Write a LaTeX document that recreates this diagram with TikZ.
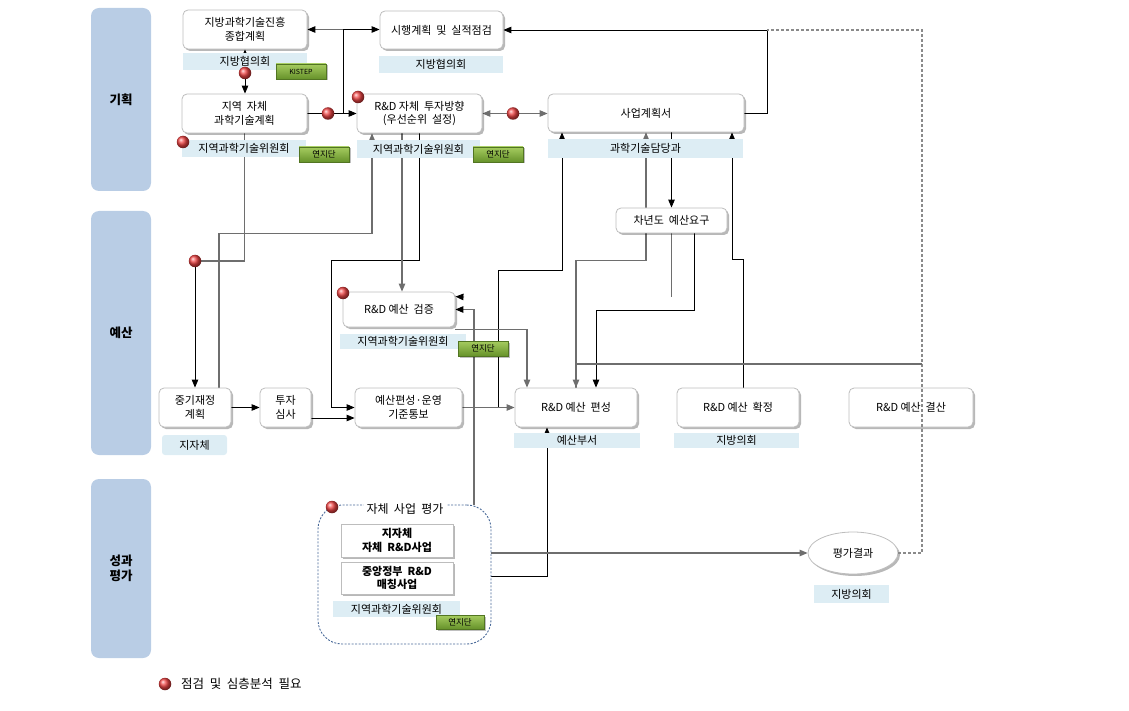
\documentclass[tikz,border=0pt]{standalone}
\usepackage{fontspec}
\setmainfont{Noto Sans CJK KR}
\usetikzlibrary{arrows.meta,shadows,calc,shapes.geometric}
\pgfdeclarelayer{bg}
\pgfsetlayers{bg,main}
\definecolor{lane}{HTML}{B9CDE5}
\definecolor{lblc}{HTML}{DDEDF4}
\definecolor{gry}{HTML}{6E6E6E}
\definecolor{bord}{HTML}{BDBDBD}
\definecolor{gtop}{HTML}{A6CC60}
\definecolor{gbot}{HTML}{66922A}
\definecolor{evb}{HTML}{4A6A99}
\definecolor{ballc}{HTML}{F04545}
\definecolor{dashc}{HTML}{8A8A8A}
\tikzset{
  box/.style={draw=bord, fill=white, rounded corners=5pt, line width=0.8pt,
    drop shadow={shadow xshift=2pt, shadow yshift=-2pt, fill=black, opacity=0.28},
    align=center, font=\fontsize{11}{13.5}\selectfont, inner sep=0pt},
  sqbox/.style={box, rounded corners=0pt, font=\bfseries\fontsize{11}{13.5}\selectfont},
  lbl/.style={fill=lblc, inner sep=0pt, font=\fontsize{11}{12}\selectfont},
  tag/.style={top color=gtop, bottom color=gbot, draw=gbot!80!black, line width=0.3pt,
    inner sep=0pt, font=\fontsize{8.5}{9}\selectfont,
    drop shadow={shadow xshift=1.5pt, shadow yshift=-1.5pt, fill=black, opacity=0.25}},
  lanebox/.style={fill=lane, rounded corners=8pt, font=\bfseries\fontsize{12.5}{15}\selectfont,
    align=center, inner sep=0pt},
  ballnode/.style={circle, minimum size=12.5pt, inner sep=0pt, shade, ball color=ballc},
  blk/.style={black, line width=0.9pt, -{Triangle[length=8pt,width=6.5pt]}},
  bline/.style={black, line width=0.9pt},
  gra/.style={gry, line width=1.1pt, -{Triangle[length=8pt,width=6.5pt]}},
  grab/.style={gry, line width=1.1pt, -{Triangle[length=8pt,width=6.5pt,black]}},
  gline/.style={gry, line width=1.1pt},
}
\begin{document}
\begin{tikzpicture}[x=1pt,y=-1pt]
\useasboundingbox (0,0) rectangle (1129,711);
% lanes
\node[lanebox, minimum width=60pt, minimum height=183pt] (L1) at (121,99.5) {기획};
\node[lanebox, minimum width=60pt, minimum height=244pt] (L2) at (121,333) {예산};
\node[lanebox, minimum width=60pt, minimum height=179pt] (L3) at (121,568.5) {성과\\평가};

% main boxes
\node[box, minimum width=124pt, minimum height=39pt] (A) at (245,29.5) {지방과학기술진흥\\종합계획};
\node[box, minimum width=123pt, minimum height=38pt] (B) at (441.5,30) {시행계획 \ 및 \ 실적점검};
\node[box, minimum width=125pt, minimum height=39pt] (C) at (244.5,113.5) {지역 \ 자체\\과학기술계획};
\node[box, minimum width=125pt, minimum height=39pt] (D) at (419.5,113.5) {R\&D 자체 \ 투자방향\\(우선순위 \ 설정)};
\node[box, minimum width=196pt, minimum height=38pt] (E) at (646,113) {사업계획서};
\node[box, minimum width=111pt, minimum height=25pt] (F) at (671.5,220.5) {차년도 \ 예산요구};
\node[box, minimum width=112pt, minimum height=35pt] (G) at (399,309.5) {R\&D 예산 \ 검증};
\node[box, minimum width=72pt, minimum height=39pt] (I) at (195,407.5) {중기재정\\계획};
\node[box, minimum width=51pt, minimum height=39pt] (J) at (285.5,407.5) {투자\\심사};
\node[box, minimum width=107pt, minimum height=39pt] (H) at (408.5,407.5) {예산편성·운영\\기준통보};
\node[box, minimum width=122pt, minimum height=39pt] (K) at (576,407.5) {R\&D 예산 \ 편성};
\node[box, minimum width=122pt, minimum height=39pt] (L) at (738,407.5) {R\&D 예산 \ 확정};
\node[box, minimum width=124pt, minimum height=39pt] (M) at (911,407.5) {R\&D 예산 \ 결산};
\node[box, ellipse, minimum width=90pt, minimum height=42pt] (N) at (853,553) {평가결과};

% evaluation group
\node[draw=evb, dash pattern=on 2pt off 1.5pt, line width=0.9pt, rounded corners=24pt,
  minimum width=173pt, minimum height=139pt] (EV) at (404.5,574.5) {};
\node[fill=white, inner sep=3pt, font=\fontsize{12}{13}\selectfont] (EVt) at (405,509) {자체 \ 사업 \ 평가};
\node[sqbox, minimum width=112pt, minimum height=33pt] (E1) at (397,540.5) {지자체\\자체 \ R\&D사업};
\node[sqbox, minimum width=112pt, minimum height=32pt] (E2) at (397,578) {중앙정부 \ R\&D\\매칭사업};

% labels
\node[lbl, minimum width=124pt, minimum height=17pt] (lA) at (245,61.5) {지방협의회};
\node[lbl, minimum width=124pt, minimum height=17pt] (lB) at (441,64.5) {지방협의회};
\node[lbl, minimum width=124pt, minimum height=17pt] (lC) at (244,148.5) {지역과학기술위원회};
\node[lbl, minimum width=123pt, minimum height=18pt] (lD) at (418.5,149) {지역과학기술위원회};
\node[lbl, minimum width=195pt, minimum height=19pt] (lE) at (645.5,148.5) {과학기술담당과};
\node[lbl, minimum width=126pt, minimum height=15pt] (lG) at (403,341) {지역과학기술위원회};
\node[lbl, minimum width=65pt, minimum height=20pt, rounded corners=3pt] (lI) at (194.5,445) {지자체};
\node[lbl, minimum width=126pt, minimum height=15pt] (lK) at (577,440) {예산부서};
\node[lbl, minimum width=125pt, minimum height=15pt] (lL) at (736.5,440) {지방의회};
\node[lbl, minimum width=127pt, minimum height=16pt] (lEV) at (396.5,609) {지역과학기술위원회};
\node[lbl, minimum width=75pt, minimum height=18pt] (lN) at (851.5,594) {지방의회};

% green tags
\node[tag, minimum width=50pt, minimum height=15pt, font=\fontsize{7}{8}\selectfont] (t0) at (301,71.5) {KISTEP};
\node[tag, minimum width=50pt, minimum height=15pt] (t1) at (324,154.5) {연지단};
\node[tag, minimum width=50pt, minimum height=15pt] (t2) at (498,154.5) {연지단};
\node[tag, minimum width=50pt, minimum height=15pt] (t3) at (483,348.5) {연지단};
\node[tag, minimum width=48pt, minimum height=14pt] (t4) at (460,622) {연지단};

% coordinates
\coordinate (j1) at (343,113.5);
\coordinate (j2) at (343,29.5);
\coordinate (cBR) at (767,30);
\coordinate (cD) at (922,30);
\coordinate (c364) at (922,364);
\coordinate (cF) at (671.5,297);
\coordinate (cs) at (464,297);

\begin{pgfonlayer}{bg}
\draw[bline, {Triangle[length=8pt,width=6.5pt]}-{Triangle[length=8pt,width=6.5pt]}] (A.south) -- (A.south |- C.north);
\draw[blk] (C.east) -- (D.west);
\draw[bline] (j1) -- (j2);
\draw[grab] (j2) -- (A.east);
\draw[blk] (j2) -- (j2 -| B.west);
\draw[gry, line width=1.1pt, {Triangle[length=8pt,width=6.5pt]}-{Triangle[length=8pt,width=6.5pt]}] (D.east) -- (D.east -| E.west);
\draw[blk] (E.east) -| (cBR) -- (B.east);
\draw[gra] (c364) -| (K.north);
\draw[gra] (K.north) -- ++(0,-127) -| (E.south);
\draw[blk] (E.south -| F.north) -- (F.north);
\draw[gline] (F.south) -- (cF);
\draw[blk] ($(F.south)+(22.5,0)$) -- ++(0,77) -| ($(K.north)+(20,0)$);
\draw[blk] ($(L.north)+(5,0)$) -- ++(0,-128) -| ($(E.south)+(86,0)$);
\draw[blk] ($(H.east)+(36,0)$) -- ++(0,-137.5) -| ($(E.south)+(-84,0)$);
\draw[gra] (H.east) -- (K.west);
\draw[blk] (I.east) -- (J.west);
\draw[blk] ($(J.east)+(0,10.5)$) -- ($(H.west)+(0,10.5)$);
\draw[blk] (D.south) -- ++(0,127.5) -| ($(H.west)+(-23,0)$) -- (H.west);
\draw[gra] ($(G.north)+(3,-159)$) -- ($(G.north)+(3,0)$);
\draw[gra] ($(I.north)+(24,0)$) |- ($(D.south)+(-47.5,100)$) -- ($(D.south)+(-47.5,0)$);
\draw[gra] ($(G.south east)+(0,2)$) -| ($(K.north)+(-49,0)$);
\draw[grab] ($(EV.north)+(69.5,0)$) |- (G.east);
\draw[blk] (cs) -- ($(G.north east)+(0,5)$);
\draw[blk] ($(EV.east)+(0,1.5)$) -| ($(K.south)+(-29,0)$);
\draw[gra] (EV.east |- N.west) -- (N.west);
\end{pgfonlayer}

% ball on C->I path
\node[ballnode] (bI) at (195,261) {};
\begin{pgfonlayer}{bg}
\draw[gline] (C.south) |- (bI);
\draw[blk] (bI) -- (I.north);
\end{pgfonlayer}

% dashed return line (over the boxes)
\draw[dashc, line width=1.1pt, dash pattern=on 3pt off 2pt] (N.east) -| (cD) -- (cBR);
\draw[gline] (c364) -- (K.north |- c364);

% balls
\node[ballnode] (b1) at (245,73) {};
\node[ballnode] (b2) at (328,113.5) {};
\node[ballnode] (b3) at (513,113.5) {};
\node[ballnode] (b4) at (183,142) {};
\node[ballnode] (b5) at (358,97) {};
\node[ballnode] (b6) at (343,293) {};
\node[ballnode] (b7) at (332,507) {};
\node[ballnode] (b8) at (165,684) {};
\node[anchor=west, font=\fontsize{12.5}{14}\selectfont, inner sep=0pt] (leg) at (181,684) {점검 \ 및 \ 심층분석 \ 필요};
\end{tikzpicture}
\end{document}
